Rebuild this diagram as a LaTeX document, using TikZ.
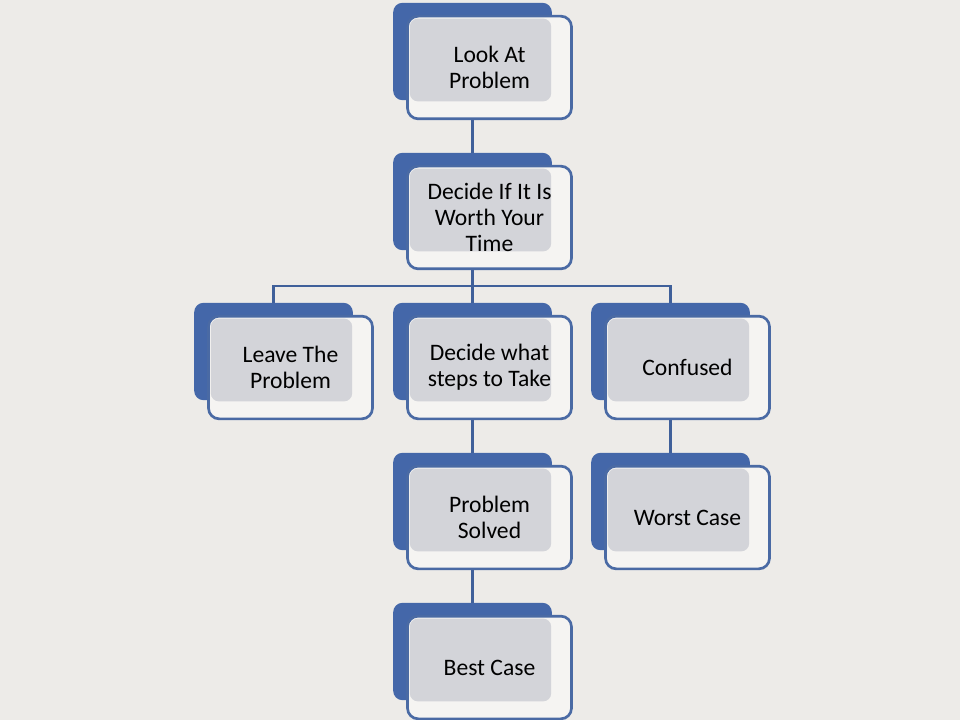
\documentclass[tikz,border=0pt]{standalone}
\usepackage{fontspec}
\setmainfont{Carlito}
\usetikzlibrary{positioning,calc}

\definecolor{pagebg}{HTML}{EDEBE8}
\definecolor{backblue}{HTML}{4467A9}
\definecolor{capgray}{HTML}{D3D4D9}
\definecolor{rimblue}{HTML}{4A6AA4}
\definecolor{linkblue}{HTML}{40609A}

\begin{document}
\begin{tikzpicture}[
  x=0.75pt,y=-0.75pt,
  every node/.style={font=\fontsize{17.7}{19.5}\selectfont},
  backplate/.style={rounded corners=7pt,fill=backblue,inner sep=0pt,
                    minimum width=119pt,minimum height=73pt},
  rim/.style={rounded corners=8pt,draw=rimblue,line width=2pt,fill=white!45!pagebg,
              inner sep=0pt,minimum width=123pt,minimum height=77pt},
  capbox/.style={rounded corners=6pt,fill=capgray,inner sep=0pt,
              minimum width=106pt,minimum height=62pt},
  boxtext/.style={align=center,text=black},
  link/.style={draw=linkblue,line width=2.2pt}
]
\fill[pagebg] (0,0) rectangle (960,720);
\useasboundingbox (0,0) rectangle (960,720);

% connectors first, boxes cover their ends
\coordinate (bar) at (472.5,286);
\coordinate (b1) at (472.5,51.5);
\coordinate (b2) at (472.5,201.5);
\coordinate (b3) at (273.5,351.5);
\coordinate (b4) at (472.5,351.5);
\coordinate (b5) at (670.5,351.5);
\coordinate (b6) at (472.5,501.5);
\coordinate (b7) at (670.5,501.5);
\coordinate (b8) at (472.5,651.5);
\draw[link] (b1)--(b2) (b2)--(bar) (b3) |- (bar) -| (b5) (bar)--(b4)
            (b4)--(b6) (b6)--(b8) (b5)--(b7);

\foreach \n/\x/\y/\t in {look/393/3/{Look At\\Problem},
                         worth/393/153/{Decide If It Is\\Worth Your\\Time},
                         leave/194/303/{Leave The\\Problem},
                         steps/393/303/{Decide what\\steps to Take},
                         conf/591/303/{Confused},
                         solved/393/453/{Problem\\Solved},
                         worst/591/453/{Worst Case},
                         best/393/603/{Best Case}}{
  \node[backplate] (\n-back) at (\x+79.5,\y+48.5) {};
  \node[rim] (\n-rim) at (\x+96.5,\y+64.5) {};
  \node[capbox] (\n-cap) at (\x+87.5,\y+57) {};
  \node[boxtext] (\n) at (\n-rim) {\t};
}
\end{tikzpicture}
\end{document}
